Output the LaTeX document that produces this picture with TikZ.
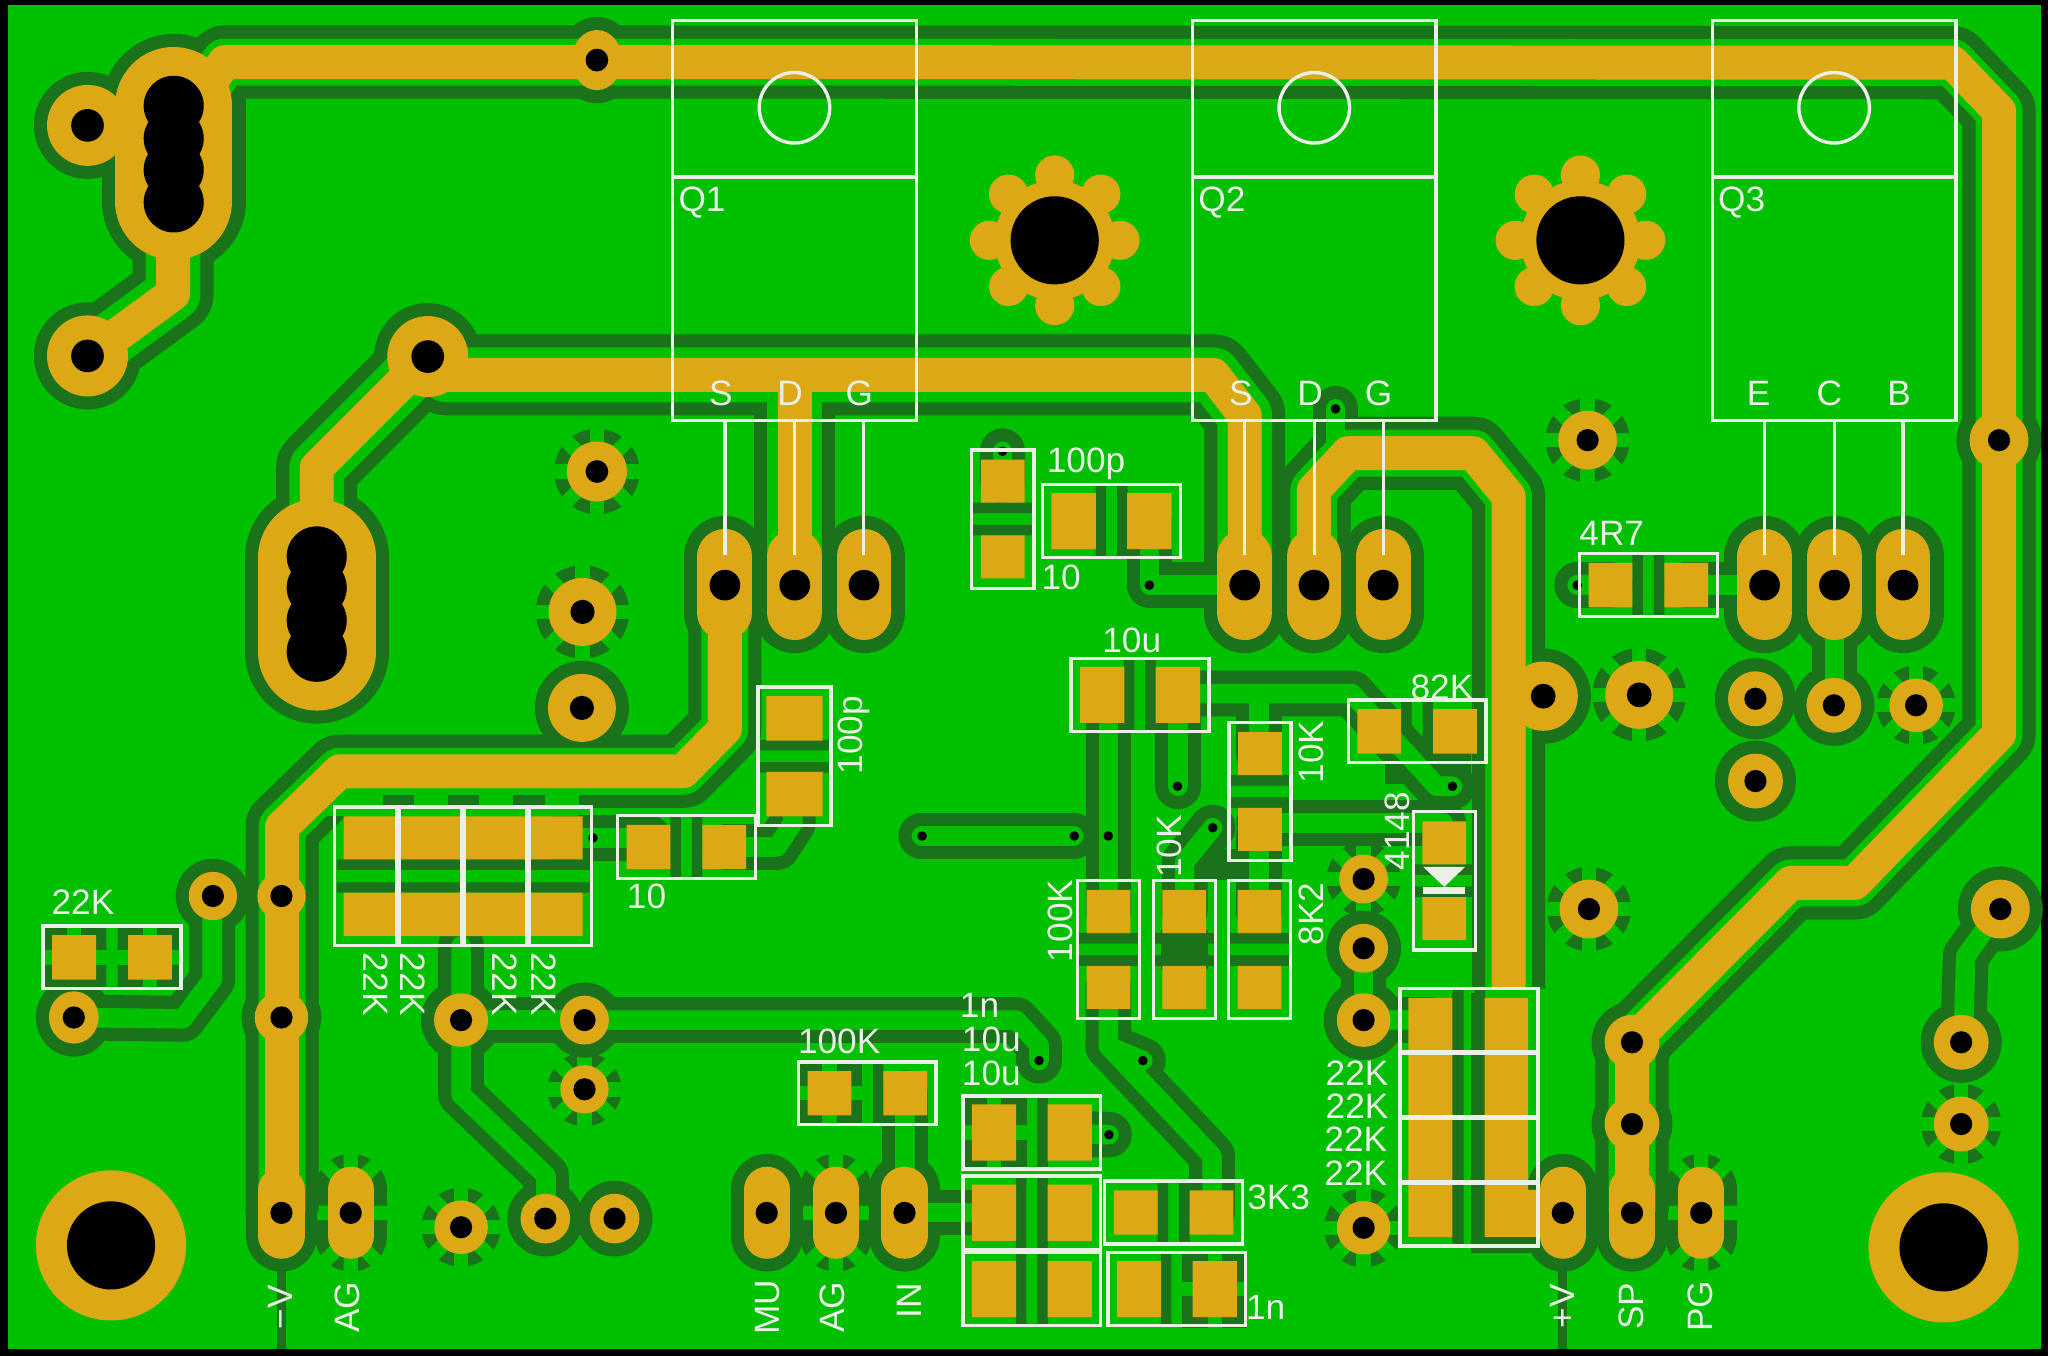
\documentclass[tikz,border=0pt]{standalone}
\usepackage{fontspec}
\setmainfont{Liberation Sans}
\definecolor{pcbgreen}{RGB}{0,192,0}
\definecolor{pcbdark}{RGB}{26,115,26}
\definecolor{pcbgold}{RGB}{220,168,22}
\definecolor{silkwhite}{RGB}{234,240,230}

\newcommand{\thintracks}{
  \draw (705.5,640) -- (822,640);
  \draw (848.6,548) -- (848.6,699);
  \draw (848.6,756) -- (848.6,801) -- (928,885) -- (928,928);
  \draw (848.6,801) -- (875,812);
  \draw (902,532) -- (902,602);
  \draw (928.4,633.7) -- (907,660) -- (907,698);
  \draw (964,640) -- (964,698);
  \draw (902,531) -- (1035,531) -- (1100,602) -- (1112,602);
  \draw (964,531) -- (964,577);
  \draw (964,630) -- (1105,630);
  \draw (1044,726) -- (1044,781) -- (1095,781);
  \draw (447,781) -- (778,781) -- (795.5,800) -- (795.5,812);
  \draw (353,781) -- (447,781);
  \draw (353,724) -- (353,838) -- (418,900) -- (418,933);
  \draw (693,837) -- (693,928);
  \draw (692.5,928.4) -- (761,928.4);
  \draw (819,868) -- (849,868.7);
  \draw (767.5,345.5) -- (767.5,368);
  \draw (880,399) -- (880,448) -- (953,448);
  \draw (1207.5,448) -- (1233,448);
  \draw (1291,448) -- (1350,448);
  \draw (1022.5,313) -- (1022.5,347);
  \draw (1404.5,448) -- (1404.5,540);
  \draw (1531,696) -- (1505,732) -- (1503,798);
  \draw (56.5,779) -- (140,780) -- (162.5,750) -- (162.5,686);
  \draw (607,608) -- (607,630) -- (595,648.5) -- (554.5,648.5);
  \draw (429,641.5) -- (496.5,641.5);
}
\newcommand{\widetracks}{
  \draw (135,100) -- (172,47.5) -- (457,47.5) -- (1495,48) -- (1530.5,85) -- (1530.5,562)
        -- (1420,676) -- (1371,676) -- (1249.5,798) -- (1249.5,928);
  \draw (555,448) -- (555,558) -- (523,590.5) -- (260,590.5) -- (216,633) -- (216,928);
  \draw (1006,448) -- (1006,375) -- (1032,347) -- (1128,347) -- (1155,380) -- (1155,757);
}
\newcommand{\fattracks}{
  \draw (327.5,273) -- (342,287) -- (929,287) -- (953,318) -- (953,448);
  \draw (608.5,287) -- (608.5,448);
  \draw (327.5,273) -- (242.5,358) -- (242.5,420);
  \draw (132.5,180) -- (132.5,225) -- (67,273);
}
\def\hsmall{85.75/733,525.5/648.5,664/837,1262/448,1085/560,898.5/928.3,1124.75/781,1124.75/830.7,1124.75/880.5,1124.75/930}
\def\hbig{851/399,872.75/532,901/987,790/867,790/928.5,790/987}
\def\vsmall{767.75/397.4,280/671,329.75/671,379.25/671,429.25/671,964.75/606,848.75/727,906.75/727,964.25/727,1105.75/674.3}
\def\vbig{608.25/579}
\def\hgold{85.75/733,525.5/648.5,664/837,1262/448,1085/560,898.5/928.3}
\def\vgold{767.75/397.4,964.75/606,848.75/727,906.75/727,964.25/727,1105.75/674.3}
\def\ringpads{67/96/31/31/12.5,67/272.5/31/31/12.5,327.5/273/31/31/12.5,457/46/19.3/23/8.7,445.5/542/26/26/9.25,
  163/686/18.5/18.5/8.5,215.5/686/18.5/18.5/8.5,215.5/779/20.5/20/8.5,56.5/779/19/20/8.5,353/781/20.7/20.5/8.5,
  447.5/781/18.7/18.7/8.5,417.5/933/19/19/8.5,470.5/933/19/19/8.5,1181.5/533/26.5/26.5/9.5,1344/535/21/21/8.5,
  1404/540/21/21/8.5,1344/598/21/21/8.5,1044/726/18.7/18.7/8.5,1044/781/20.5/20.5/8.5,1530.5/337/22.5/22.5/8.5,
  1531.5/696/22.5/22.5/8.5,1501.5/798/21/21/8.5,1249.5/798/21/21/8.5,1249.5/860.6/21/21/8.5}
\def\reliefpads{457/361/23/8.7,446/468.5/26/9.25,447.5/834/18.5/8.5,353/939.6/20.5/8.5,1255/532/26/9.5,1467/540/20.5/8.5,
  1044/673/18.7/8.5,1044/940/20.5/8.5,1216.5/696/22.5/8.5,1215.5/337/22.5/8.5,1501.5/860.6/21/8.5}
\def\pinpads{555,608.5,661.5,953,1006,1059,1351,1404.5,1457}
\def\edgepads{215.5,587,692.5,1196.5,1249.5}
\def\edgerelief{268.5,640,1302.5}

\begin{document}
\begin{tikzpicture}[x=1pt,y=-1pt,
  thindark/.style={color=pcbdark,line width=35,line cap=round,line join=round},
  thinbright/.style={color=pcbgreen,line width=15,line cap=round,line join=round},
  widedark/.style={color=pcbdark,line width=56,line join=round},
  widebright/.style={color=pcbgreen,line width=36,line join=round},
  widegold/.style={color=pcbgold,line width=26,line join=round},
  fatdark/.style={color=pcbdark,line width=62,line join=round},
  fatbright/.style={color=pcbgreen,line width=42,line join=round},
  spoke/.style={pcbgreen,line width=11},
  silkbox/.style={draw=silkwhite,line width=2.6},
  silktext/.style={text=silkwhite,font=\fontsize{27}{27}\selectfont,inner sep=0pt}]
  \useasboundingbox (0,0) rectangle (1568,1038);
  \fill[black] (0,0) rectangle (1568,1038);
  \fill[pcbgreen] (6,3.5) rectangle (1563,1032.5);

  \foreach \x/\y/\r/\h in \reliefpads
    {\fill[pcbdark] (\x,\y) circle[radius=\r+9.7];
     \foreach \a in {0,45,90,135}
       \draw[spoke,shift={(\x,\y)},rotate=\a] (-\r-11,0) -- (\r+11,0);}
  \foreach \x in \edgerelief
    {\draw[pcbdark,line width=55,line cap=round] (\x,911) -- (\x,946);
     \draw[spoke] (\x,875) -- (\x,982)
                  (\x-30,928.6) -- (\x+30,928.6)
                  (\x,911) -- (\x+25,886) (\x,911) -- (\x-25,886)
                  (\x,946) -- (\x+25,971) (\x,946) -- (\x-25,971);}

  \draw[pcbdark,line width=7] (215.5,960) -- (215.5,1033);
  \draw[pcbdark,line width=7] (1196.5,960) -- (1196.5,1033);

  \foreach \x/\y in \hsmall
    \fill[pcbdark] (\x-12.25,\y-23) rectangle (\x-4.25,\y+23)
                   (\x+4.25,\y-23) rectangle (\x+12.25,\y+23);
  \foreach \x/\y in \hbig
    \fill[pcbdark] (\x-12.25,\y-27) rectangle (\x-4.25,\y+27)
                   (\x+4.25,\y-27) rectangle (\x+12.25,\y+27);
  \foreach \x/\y in {767.75/397.4,964.75/606,848.75/727,906.75/727,964.25/727,1105.75/674.3}
    \fill[pcbdark] (\x-23,\y-12.5) rectangle (\x+23,\y-4.5)
                   (\x-23,\y+4.5) rectangle (\x+23,\y+12.5);
  \foreach \x/\y in \vbig
    \fill[pcbdark] (\x-27,\y-12.5) rectangle (\x+27,\y-4.5)
                   (\x-27,\y+4.5) rectangle (\x+27,\y+12.5);
  \fill[pcbdark] (258,658) rectangle (453,666) (258,675.5) rectangle (453,683.5);
  \fill[pcbdark] (889,712) rectangle (925,742);
  \fill[pcbdark] (917,650) rectangle (947,674);
  \fill[pcbdark] (1112,760) rectangle (1120,950);
  \fill[pcbdark] (1126,760) rectangle (1137,959.6);
  \fill[pcbdark] (1126,947) rectangle (1178,959.6);
  \fill[pcbdark] (1060,575) rectangle (1126,600);

  \foreach \x/\y/\pw/\ph in {56.75/733/16.75/17,115/733/16.75/17,635/837/16.75/17,761/867/17/21.5,930/987/17/21.5}
    {\fill[pcbdark] (\x-\pw-8,\y-\ph-8) rectangle (\x+\pw+8,\y+\ph+8);
     \draw[spoke] (\x-\pw-9,\y) -- (\x+\pw+9,\y) (\x,\y-\ph-9) -- (\x,\y+\ph+9);}

  \begin{scope}[thindark] \thintracks \end{scope}
  \begin{scope}[widedark] \widetracks \end{scope}
  \begin{scope}[fatdark] \fattracks \end{scope}
  \foreach \x/\y/\rx/\ry/\h in \ringpads
    \fill[pcbdark] (\x,\y) ellipse[x radius=\rx+10,y radius=\ry+10];
  \foreach \x in \pinpads
    \draw[pcbdark,line width=62,line cap=round] (\x,426) -- (\x,469);
  \foreach \x in \edgepads
    \draw[pcbdark,line width=55,line cap=round] (\x,911) -- (\x,946);
  \draw[pcbdark,line width=110,line cap=round] (133,81) -- (133,154);
  \draw[pcbdark,line width=110,line cap=round] (242.5,427) -- (242.5,499);

  \begin{scope}[thinbright] \thintracks \end{scope}
  \begin{scope}[widebright] \widetracks \end{scope}
  \begin{scope}[fatbright] \fattracks \end{scope}
  \foreach \x in {245,317,367,417}
    \fill[pcbgreen] (\x,607) rectangle (\x+26,625);
  \fill[pcbgreen] (270,607) rectangle (293,625);

  \begin{scope}[widegold] \widetracks \fattracks \end{scope}
  \foreach \x/\y/\rx/\ry/\h in \ringpads
    {\fill[pcbgold] (\x,\y) ellipse[x radius=\rx,y radius=\ry];
     \fill[black] (\x,\y) circle[radius=\h];}
  \foreach \x/\y/\r/\h in \reliefpads
    {\fill[pcbgold] (\x,\y) circle[radius=\r];
     \fill[black] (\x,\y) circle[radius=\h];}
  \foreach \x in \pinpads
    {\draw[pcbgold,line width=42,line cap=round] (\x,426) -- (\x,469);
     \fill[black] (\x,448) circle[radius=11.75];}
  \foreach \x in {215.5,268.5,587,640,692.5,1196.5,1249.5,1302.5}
    {\draw[pcbgold,line width=35.5,line cap=round] (\x,911) -- (\x,946);
     \fill[black] (\x,928.6) circle[radius=8.5];}
  \draw[pcbgold,line width=90,line cap=round] (133,81) -- (133,154);
  \draw[pcbgold,line width=90,line cap=round] (242.5,427) -- (242.5,499);
  \foreach \y in {81,106,130,155} \fill[black] (133,\y) circle[radius=23];
  \foreach \y in {426,450,475,499} \fill[black] (242.5,\y) circle[radius=23];
  \foreach \x/\y in {807.5/184,1210/184}
    {\foreach \a in {0,45,...,315}
       \fill[pcbgold] (\x,\y) ++(\a:50) circle[radius=15];
     \fill[pcbgold] (\x,\y) circle[radius=46];
     \fill[black] (\x,\y) circle[radius=33.75];}
  \foreach \x/\y in {85/953.5,1488/955}
    {\fill[pcbgold] (\x,\y) circle[radius=57.5];
     \fill[black] (\x,\y) circle[radius=33.75];}

  \foreach \x/\y in \hgold
    \fill[pcbgold] (\x-45.75,\y-17) rectangle (\x-12.25,\y+17)
                   (\x+12.25,\y-17) rectangle (\x+45.75,\y+17);
  \foreach \x/\y in \hbig
    \fill[pcbgold] (\x-46,\y-21.5) rectangle (\x-12,\y+21.5)
                   (\x+12,\y-21.5) rectangle (\x+46,\y+21.5);
  \foreach \x/\y in \vgold
    \fill[pcbgold] (\x-16.75,\y-45.5) rectangle (\x+16.75,\y-12.5)
                   (\x-16.75,\y+12.5) rectangle (\x+16.75,\y+45.5);
  \foreach \x/\y in \vbig
    \fill[pcbgold] (\x-21.5,\y-46) rectangle (\x+21.5,\y-12)
                   (\x-21.5,\y+12) rectangle (\x+21.5,\y+46);
  \fill[pcbgold] (263,625) rectangle (446,658) (263,683.5) rectangle (446,716.7);
  \fill[pcbgold] (1078.3,764) rectangle (1112,947) (1136.6,764) rectangle (1170,947)
                 (1136.6,911) rectangle (1178,947);

  \foreach \x/\y in {767.5/345.5,880/448,1022.5/313,1207.5/448,454/641.5,706/640,822.5/640,848.5/640,
                     901.5/602,928.5/633.7,875/812,795.5/812,849/868.7,1112/602}
    \fill[black] (\x,\y) circle[radius=3.7];

  \foreach \x/\y in \hsmall
    \draw[silkbox] (\x-52.75,\y-24) rectangle (\x+52.75,\y+24);
  \foreach \x/\y in \hbig
    \draw[silkbox] (\x-52.75,\y-28) rectangle (\x+52.75,\y+28);
  \foreach \x/\y in \vsmall
    \draw[silkbox] (\x-23.75,\y-53) rectangle (\x+23.75,\y+53);
  \foreach \x/\y in \vbig
    \draw[silkbox] (\x-28,\y-53) rectangle (\x+28,\y+53);
  \fill[silkwhite] (1089.5,663.6) -- (1121.8,663.6) -- (1105.7,679) -- cycle;
  \fill[silkwhite] (1089.5,679) rectangle (1121.8,684.5);

  \foreach \x/\n in {515/1,913/2,1311/3}
    {\draw[silkbox] (\x,15.6) rectangle (\x+186.5,322);
     \draw[silkbox] (\x,135.5) -- (\x+186.5,135.5);
     \draw[silkbox] (\x+93.25,82.5) circle[radius=27];
     \node[silktext] (Q\n) at (\x+22.5,155) {Q\n};
     \foreach \d in {40,93.5,146}
       \draw[silkbox] (\x+\d,322) -- (\x+\d,425);}

  \foreach \x/\y/\t/\n in {552/301/S/sa,605/301/D/da,658/301/G/ga,950/301/S/sb,1003/301/D/db,1055.5/301/G/gb,
      1346.5/301/E/eq,1400.5/301/C/cq,1454/301/B/bq,831.5/355/100p/cb,812.5/442/10/rb,1234/408.6/4R7/rg,
      866.5/490/10u/cin,1104/526/82K/rfb,63.5/691/22K/rin,495/686/10/ra,642.5/797.6/100K/rm,
      750/770/1n/cx,759/796/10u/cy,759/821.6/10u/cz,1039/821.6/22K/ka,1039/847/22K/kb,1038/872/22K/kc,
      1038/898/22K/kd,979/917/3K3/rk,969/1001/1n/cw}
    \node[silktext] (\n) at (\x,\y) {\t};
  \foreach \x/\y/\t/\n in {654/563/100p/ca,1004/575.7/10K/rh,895/648/10K/ri,811.5/705/100K/rj,1004/699.6/8K2/rl,
      1070/636.5/4148/dq,215/1001/−V/pm,266/1001/AG/pa,587.5/1001/MU/pb,637.5/1001/AG/pc,696/996/IN/pd,
      1196.5/1000/+V/pe,1249/1000/SP/pf,1301.5/1000/PG/pg}
    \node[silktext,rotate=90] (\n) at (\x,\y) {\t};
  \foreach \x/\n in {287.5/sa,316/sb,386.5/sc,416/sd}
    \node[silktext,rotate=-90] (t\n) at (\x,753.5) {22K};
\end{tikzpicture}
\end{document}
